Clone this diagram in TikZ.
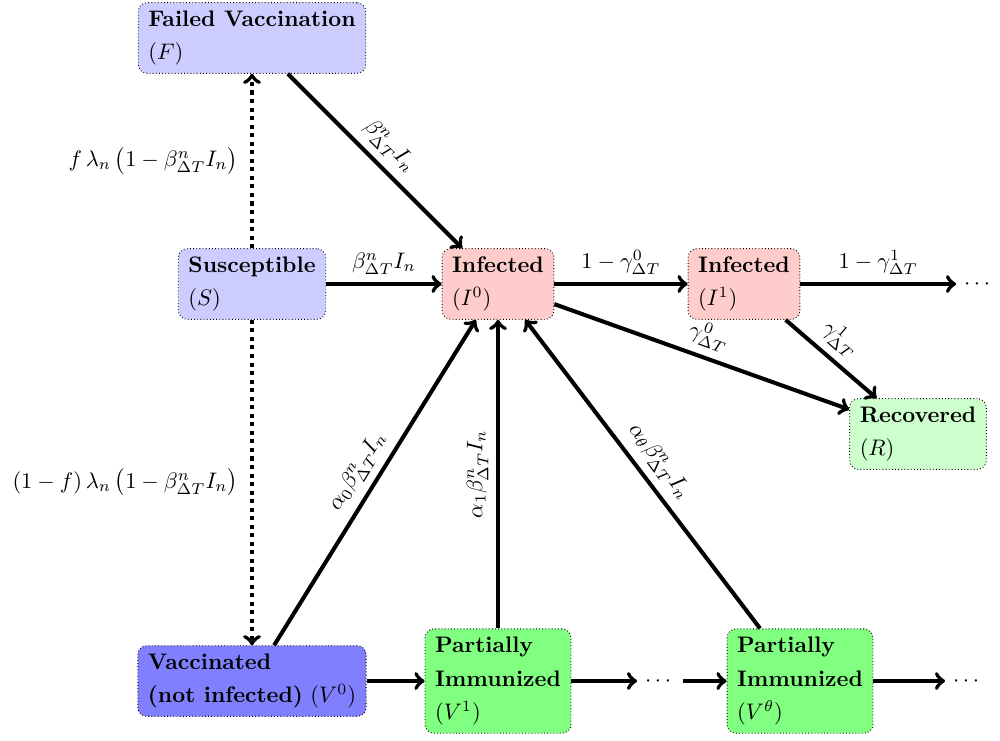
\documentclass[tikz,border=0pt]{standalone}
\usepackage{amsmath}
\usetikzlibrary{positioning}

\begin{document}
\begin{tikzpicture}[x=0.445pt, y=-0.445pt,
  comp/.style={draw, densely dotted, rounded corners=4pt, align=left, inner xsep=4.5pt, inner ysep=3.5pt},
  flow/.style={->, line width=1.8pt},
  vacc/.style={->, line width=1.8pt, dotted}]
\useasboundingbox (0, 0) rectangle (1000, 740);
% compartments
\node[comp, fill=blue!20] (F) at (252, 38) {\textbf{Failed Vaccination}\\[3pt]$(F)$};
\node[comp, fill=blue!20] (S) at (252, 284) {\textbf{Susceptible}\\[3pt]$(S)$};
\node[comp, fill=red!20] (I0) at (498, 284) {\textbf{Infected}\\[3pt]$(I^0)$};
\node[comp, fill=red!20] (I1) at (744, 284) {\textbf{Infected}\\[3pt]$(I^1)$};
\node[comp, fill=green!20] (R) at (918, 434) {\textbf{Recovered}\\[3pt]$(R)$};
\node[comp, fill=blue!50] (V0) at (252, 681) {\textbf{Vaccinated}\\[3pt]\textbf{(not infected)} $(V^0)$};
\node[comp, fill=green!50] (V1) at (498, 681) {\textbf{Partially}\\[3pt]\textbf{Immunized}\\[3pt]$(V^1)$};
\node[comp, fill=green!50] (Vt) at (800, 681) {\textbf{Partially}\\[3pt]\textbf{Immunized}\\[3pt]$(V^\theta)$};
\node (dotsI) at (979, 284) {$\cdots$};
\node (dotsV) at (660, 681) {$\cdots$};
\node (dotsW) at (968, 681) {$\cdots$};

% infection
\draw[flow] (S) -- node[above]{$\beta^n_{\Delta T} I_n$} (I0);
\draw[flow] (F) -- node[sloped, above]{$\beta^n_{\Delta T} I_n$} (I0);
\draw[flow] (V0) -- node[sloped, above]{$\alpha_0 \beta^n_{\Delta T} I_n$} (I0);
\draw[flow] (V1) -- node[sloped, above]{$\alpha_1 \beta^n_{\Delta T} I_n$} (I0);
\draw[flow] (Vt) -- node[sloped, above]{$\alpha_\theta \beta^n_{\Delta T} I_n$} (I0);
% recovery
\draw[flow] (I0) -- node[above]{$1-\gamma^0_{\Delta T}$} (I1);
\draw[flow] (I1) -- node[above]{$1-\gamma^1_{\Delta T}$} (dotsI);
\draw[flow] (I0) -- node[sloped, above]{$\gamma^0_{\Delta T}$} (R);
\draw[flow] (I1) -- node[sloped, above, pos=0.45]{$\gamma^1_{\Delta T}$} (R);
% vaccination
\draw[vacc] (S) -- node[left=2pt]{$f\,\lambda_n\,\bigl(1-\beta^n_{\Delta T} I_n\bigr)$} (F);
\draw[vacc] (S) -- node[left=2pt]{$(1-f)\,\lambda_n\,\bigl(1-\beta^n_{\Delta T} I_n\bigr)$} (V0);
% waning
\draw[flow] (V0) -- (V1);
\draw[flow] (V1) -- (dotsV);
\draw[flow] (dotsV) -- (Vt);
\draw[flow] (Vt) -- (dotsW);
\end{tikzpicture}
\end{document}
